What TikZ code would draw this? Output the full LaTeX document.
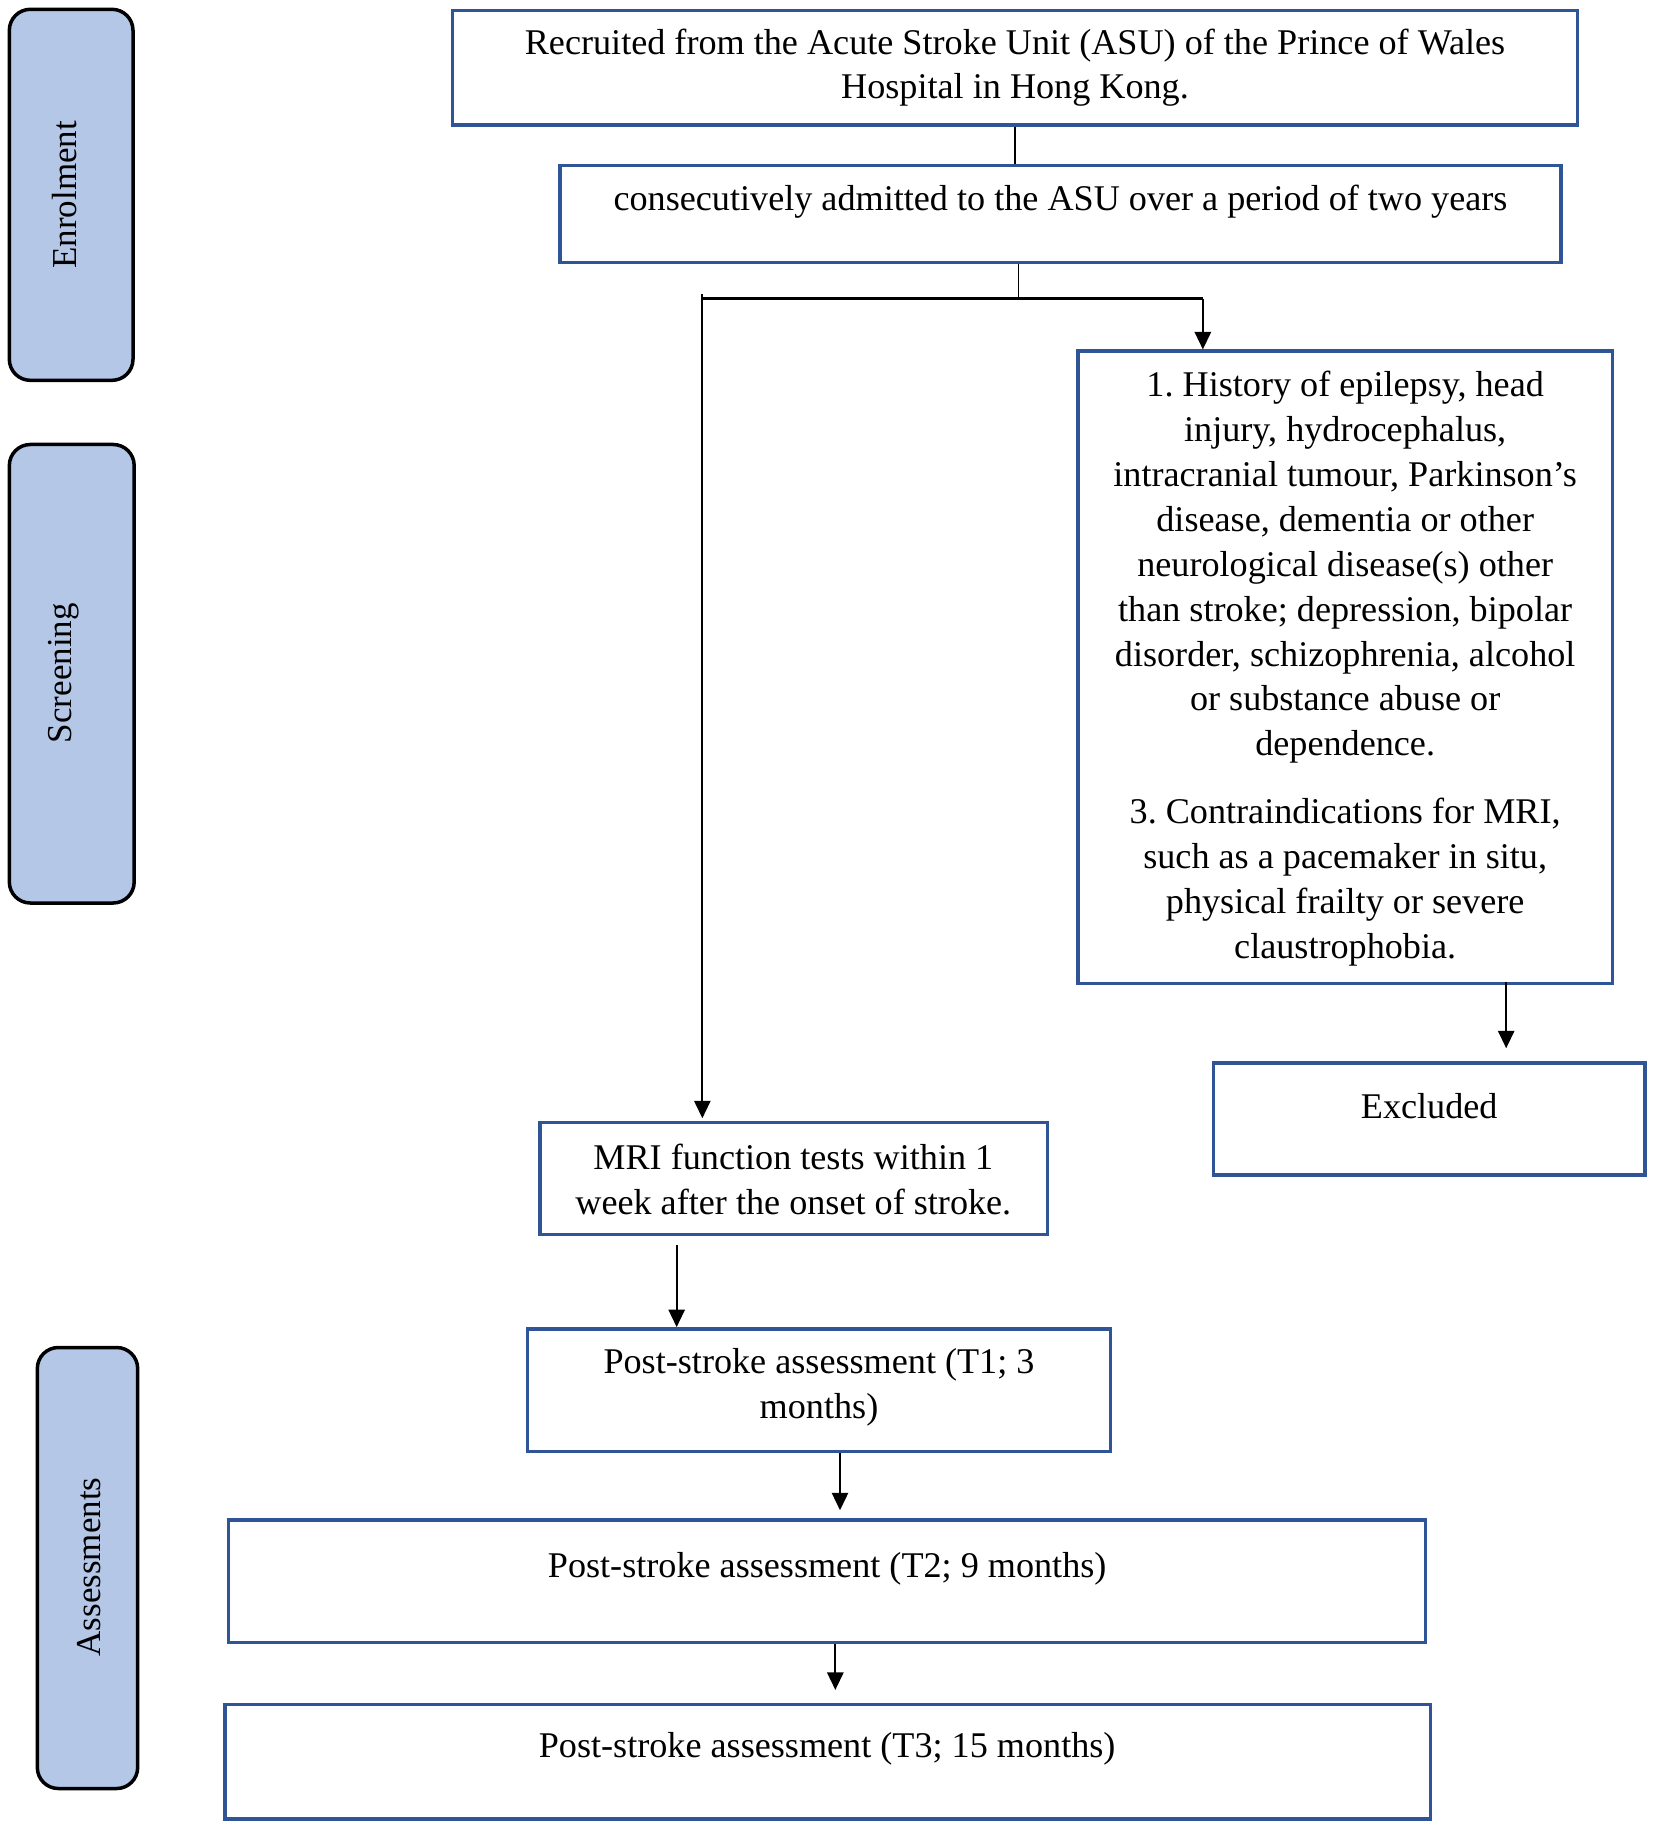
\documentclass[tikz,border=0pt]{standalone}
\usepackage{fontspec}
\setmainfont{Liberation Serif}
\usetikzlibrary{arrows.meta,fit}
\definecolor{boxblue}{HTML}{2F5597}
\definecolor{labfill}{HTML}{B4C7E7}
\begin{document}
\begin{tikzpicture}[x=0.5pt,y=-0.5pt,
  box/.style={draw=boxblue,line width=1.5pt,fill=white,inner sep=0pt},
  lab/.style={draw=black,line width=1.5pt,fill=labfill,rounded corners=9pt,inner sep=0pt},
  txt/.style={font=\fontsize{15.5}{19.25}\selectfont,align=center,inner sep=0pt},
  labtxt/.style={font=\fontsize{15}{18}\selectfont,rotate=90,inner sep=0pt},
  arr/.style={line width=0.8pt,-{Triangle[length=7.5pt,width=7pt]}},
  ln/.style={line width=0.8pt}]
\useasboundingbox[fill=white] (0,0) rectangle (1417,1566);

% side labels
\node[lab,fit={(8,8)(114,326)}] (lenr) {};
\node[labtxt] (lenrt) at (55,167) {Enrolment};
\node[lab,fit={(8,381)(115,774)}] (lscr) {};
\node[labtxt] (lscrt) at (55,577) {Screening};
\node[lab,fit={(32,1155)(118,1533)}] (lass) {};
\node[labtxt] (lasst) at (76,1343) {Assessments};

% boxes
\node[box,fit={(388,9)(1352,107)}] (top) {};
\node[txt] (toptxt) at (870,58) {Recruited from the Acute Stroke Unit (ASU) of the Prince of Wales\\Hospital in Hong Kong.};
\node[box,fit={(480,142)(1338,225)}] (b2) {};
\node[txt] (b2txt) at (909,173) {consecutively admitted to the ASU over a period of two years};
\node[box,fit={(924,301)(1382,843)}] (excl) {};
\node[txt] (excltxt) at (1153,573) {1.\ History of epilepsy, head\\injury, hydrocephalus,\\intracranial tumour, Parkinson’s\\disease, dementia or other\\neurological disease(s) other\\than stroke; depression, bipolar\\disorder, schizophrenia, alcohol\\or substance abuse or\\dependence.\\[9.75pt]3.\ Contraindications for MRI,\\such as a pacemaker in situ,\\physical frailty or severe\\claustrophobia.};
\node[box,fit={(1040,911)(1410,1007)}] (exd) {};
\node[txt] (exdtxt) at (1225,948) {Excluded};
\node[box,fit={(463,962)(898,1058)}] (mri) {};
\node[txt] (mritxt) at (680,1011) {MRI function tests within 1\\week after the onset of stroke.};
\node[box,fit={(452,1139)(952,1244)}] (t1) {};
\node[txt] (t1txt) at (702,1189) {Post-stroke assessment (T1; 3\\months)};
\node[box,fit={(196,1303)(1222,1408)}] (t2) {};
\node[txt] (t2txt) at (709,1345) {Post-stroke assessment (T2; 9 months)};
\node[box,fit={(193,1461)(1226,1559)}] (t3) {};
\node[txt] (t3txt) at (709,1499) {Post-stroke assessment (T3; 15 months)};

% connectors
\coordinate (c1) at (870,0);
\draw[ln] (top.south -| c1) -- (b2.north -| c1);
\coordinate (sp) at (873,256);
\coordinate (spl) at (602,256);
\coordinate (spr) at (1031,256);
\draw[ln] (b2.south -| sp) -- (sp);
\draw[line width=1.1pt] (spl) -- (spr);
\draw[arr] (spr) -- (excl.north -| spr);
\draw[arr,shorten >=1pt] ([yshift=2pt]spl) -- (mri.north -| spl);
\coordinate (c2) at (1291,0);
\draw[arr,shorten >=5.5pt] ([yshift=1.5pt]excl.south -| c2) -- (exd.north -| c2);
\coordinate (c3) at (580,0);
\draw[arr,shorten <=4pt] (mri.south -| c3) -- (t1.north -| c3);
\coordinate (c4) at (720,0);
\draw[arr,shorten >=3.5pt] (t1.south -| c4) -- (t2.north -| c4);
\coordinate (c5) at (716,0);
\draw[arr,shorten >=5.5pt] (t2.south -| c5) -- (t3.north -| c5);
\end{tikzpicture}
\end{document}
